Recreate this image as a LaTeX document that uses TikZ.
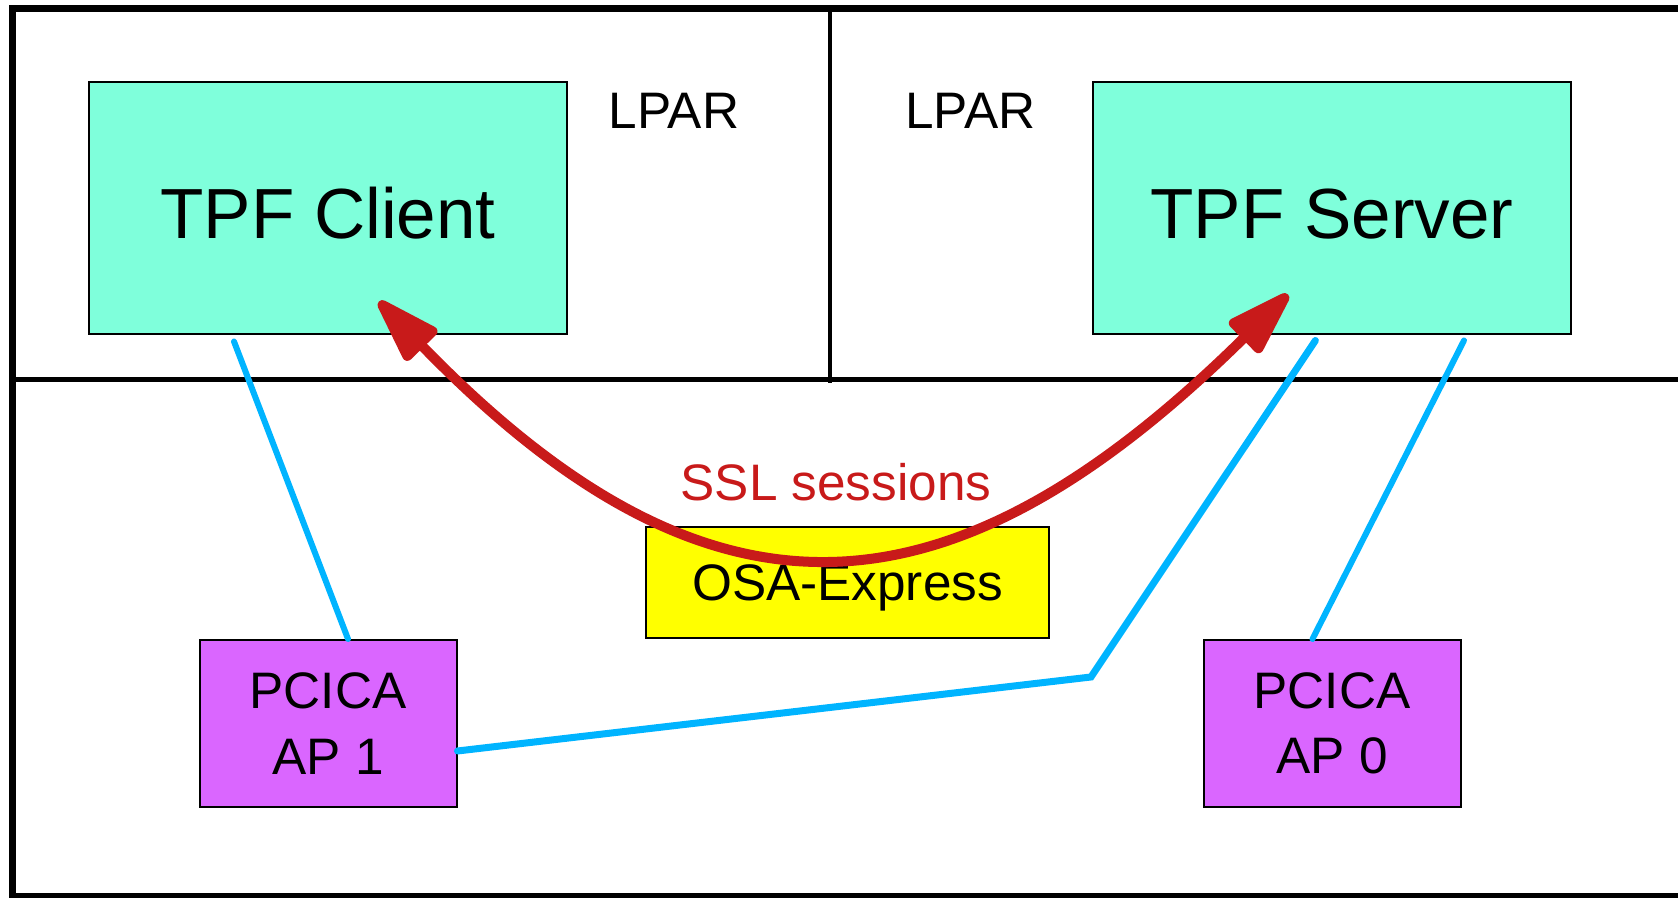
\documentclass[tikz,border=0pt]{standalone}
\usepackage{fontspec}
\setmainfont{Liberation Sans}
\usetikzlibrary{positioning,arrows.meta}
\definecolor{hostgreen}{RGB}{127,255,219}
\definecolor{cardviolet}{RGB}{218,102,255}
\definecolor{osayellow}{RGB}{255,255,0}
\definecolor{linkblue}{RGB}{0,180,255}
\definecolor{sslred}{RGB}{200,26,26}
\tikzset{
>={Triangle[length=7.6mm,width=4.6mm,round]},
every node/.style={font=\fontsize{14.6}{18.6}\selectfont},
hostbox/.style={draw, line width=0.2mm, fill=hostgreen, minimum width=47.8mm, minimum height=25.2mm, text height=17.3pt, text depth=0pt, font=\fontsize{20.2}{24}\selectfont},
cardbox/.style={draw, line width=0.2mm, fill=cardviolet, minimum width=25.7mm, minimum height=16.7mm, align=center},
osabox/.style={draw, line width=0.2mm, fill=osayellow, minimum width=40.3mm, minimum height=11.1mm, text depth=0pt},
frame/.style={line width=0.7mm},
link/.style={draw=linkblue, line width=0.6mm, line cap=round},
session/.style={draw=sslred, line width=1mm, <->},
}

\begin{document}
\begin{tikzpicture}[x=0.1mm, y=-0.1mm, node distance=100.4mm]
        \clip (0,0) rectangle (1678,898);
        \fill[white] (0,0) rectangle (1678,898);
        % frame and partitions
        \draw[frame] (1700,8.3) -- (12.7,8.3) -- (12.7,897) -- (1700,897);
        \draw[frame, line width=0.5mm] (12.7,380) -- (1700,380);
        \draw[frame, line width=0.4mm] (829.5,8.3) -- (829.5,383);
        
        \node[hostbox] (client) at (328,208.5) {TPF Client};
        \node[hostbox, right of=client] (server) {TPF Server};
        \node[cardbox, below of=client, node distance=51.5mm] (ap1) {PCICA\\AP 1};
        \node[cardbox, below of=server, node distance=51.5mm] (ap0) {PCICA\\AP 0};
        \node[osabox] (osa) at (847.5,583) {OSA-Express};
        \node (lparA) at (674,111) {LPAR};
        \node (lparB) at (970.5,111) {LPAR};
        \coordinate (kink) at (1091,677);
        
        \draw[link] ([xshift=-9.4mm,yshift=-0.6mm]client.south) -- ([xshift=2mm]ap1.north);
        \draw[link, line width=0.7mm] ([yshift=-2.75mm]ap1.east) -- (kink) -- ([xshift=-1.66mm,yshift=-0.5mm]server.south);
        \draw[link] ([xshift=13.2mm,yshift=-0.5mm]server.south) -- ([xshift=-1.95mm]ap0.north);
        \draw[session] ([xshift=5.1mm,yshift=3.4mm]client.south) .. controls +(330,340) and +(-340,335) .. ([xshift=-4.4mm,yshift=4.1mm]server.south);
        \node[text=sslred] (ssl) at (836,482) {SSL sessions};
        
    \end{tikzpicture}
\end{document}
